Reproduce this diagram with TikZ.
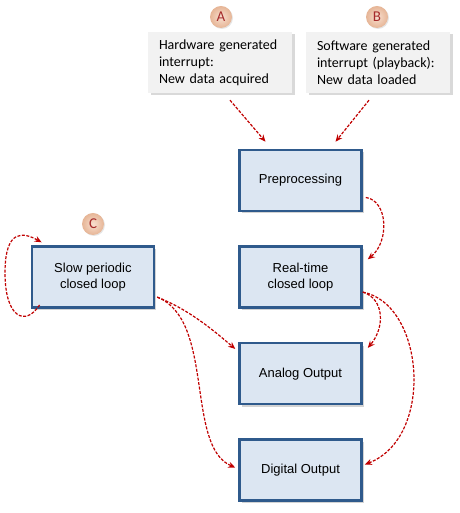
\documentclass[tikz,border=0pt]{standalone}
\usepackage{fontspec}
\newfontfamily\stagefont{Liberation Sans}
\newfontfamily\notefont{Carlito}
\usepackage{tikz}
\usetikzlibrary{arrows.meta,positioning,shadows}
\definecolor{stageblue}{HTML}{2F5A8C}
\definecolor{stagefill}{HTML}{DCE6F2}
\definecolor{notefill}{HTML}{F2F2F2}
\definecolor{linkred}{HTML}{C00000}
\definecolor{badgein}{HTML}{F8DFCF}
\definecolor{badgeout}{HTML}{E6B596}
\definecolor{badgetext}{HTML}{A52A2A}

\begin{document}
\begin{tikzpicture}[
  x=1pt, y=1pt,
  node distance=33pt and 83pt,
  stage/.style={rectangle, draw=stageblue, line width=2.6pt, fill=stagefill, minimum width=122pt, minimum height=61pt, align=center, font=\stagefont\fontsize{13}{16}\selectfont, drop shadow={opacity=0.35, shadow xshift=2.5pt, shadow yshift=-2.5pt}},
  note/.style={rectangle, fill=notefill, minimum width=144pt, minimum height=61pt, text width=122pt, inner xsep=11pt, align=left, font=\notefont\fontsize{14}{17}\selectfont, drop shadow={opacity=0.3, shadow xshift=2.5pt, shadow yshift=-2.5pt}},
  badge/.style={circle, shading=radial, inner color=badgein, outer color=badgeout, minimum size=22pt, inner sep=0pt, text=badgetext, font=\notefont\fontsize{15}{15}\selectfont, drop shadow={opacity=0.2, shadow xshift=1pt, shadow yshift=-1pt}},
  arrow/.style={-{Stealth[length=7pt, width=6pt]}, dashed, dash pattern=on 3pt off 1.5pt, line width=1.2pt, draw=linkred},
]
  \useasboundingbox (0,0) rectangle (459,513);

  \node[stage] (pre) at (300.5,332.5) {Preprocessing};
  \node[stage, below=of pre] (rt) {Real-time\\closed loop};
  \node[stage, below=of rt] (ao) {Analog Output};
  \node[stage, below=of ao] (do) {Digital Output};
  \node[stage, left=of rt] (slow) {Slow periodic\\closed loop};

  \node[note] (hw) at (220,450.5) {Hardware generated\\interrupt:\\New data acquired};
  \node[note] (sw) at (378,450.5) {Software generated\\interrupt (playback):\\New data loaded};

  \node[badge] (a) at (221,496) {A};
  \node[badge] (b) at (377,496) {B};
  \node[badge] (c) at (93,289) {C};

  \draw[arrow] ([xshift=10pt,yshift=-7pt]hw.south) -- ([xshift=-35pt,yshift=7pt]pre.north);
  \draw[arrow] ([xshift=-9pt,yshift=-7pt]sw.south) -- ([xshift=35pt,yshift=7pt]pre.north);
  \draw[arrow] ([xshift=3pt,yshift=-17pt]pre.east) .. controls +(22,-3) and +(22,18) .. ([xshift=5pt,yshift=-14pt]rt.north east);
  \draw[arrow] ([yshift=-15pt]rt.east) .. controls +(22,-7) and +(17,20) .. ([xshift=5pt,yshift=-6pt]ao.north east);
  \draw[arrow] ([yshift=-15pt]rt.east) .. controls +(62,-12) and +(70,27) .. ([xshift=2pt,yshift=-26pt]do.north east);
  \draw[arrow] ([xshift=2pt,yshift=-20pt]slow.east) .. controls +(33,-13) and +(-20,17) .. ([xshift=-3pt,yshift=-7pt]ao.north west);
  \draw[arrow] ([xshift=2pt,yshift=-20pt]slow.east) .. controls +(58,-23) and +(-50,21) .. ([xshift=-3pt,yshift=-29pt]do.north west);
  \draw[arrow] ([xshift=9pt,yshift=4pt]slow.south west) .. controls +(-14,-22) and +(0,-45) .. (5,240) .. controls +(0,45) and +(-18,10) .. ([xshift=11pt,yshift=3pt]slow.north west);
\end{tikzpicture}
\end{document}
